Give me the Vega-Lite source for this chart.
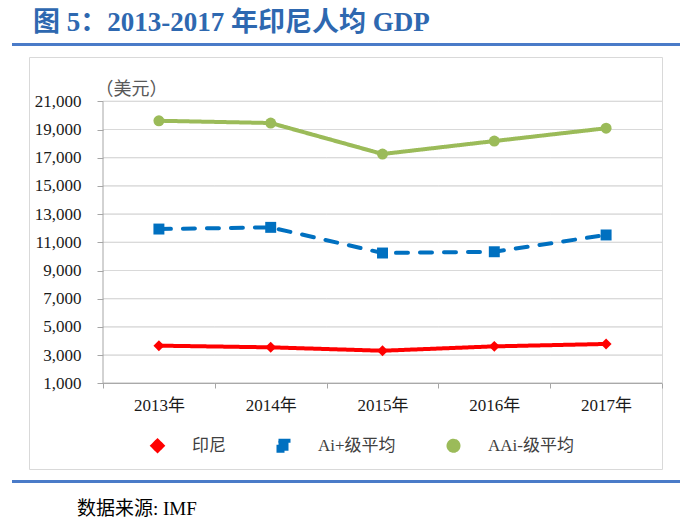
{
  "$schema": "https://vega.github.io/schema/vega-lite/v6.json",
  "padding": {"left": 12, "top": 9, "right": 0, "bottom": 0},
  "background": "white",
  "title": {
    "text": "图 5：2013-2017 年印尼人均 GDP",
    "anchor": "start",
    "frame": "bounds",
    "dx": 21,
    "offset": 6,
    "font": "Liberation Serif, Noto Sans CJK SC",
    "fontSize": 27,
    "fontWeight": "bold",
    "color": "#2E68B0"
  },
  "config": {
    "view": {"stroke": null},
    "axisX": {
      "offset": -86,
      "domain": false,
      "grid": false,
      "ticks": true,
      "tickBand": "extent",
      "tickSize": 5,
      "tickColor": "#A6A6A6",
      "labelAngle": 0,
      "labelFont": "Liberation Serif, Noto Sans CJK SC",
      "labelFontSize": 17,
      "labelColor": "#1a1a1a",
      "labelPadding": 9
    },
    "axisY": {
      "offset": -74,
      "domain": false,
      "grid": false,
      "tickSize": 6,
      "tickColor": "#A6A6A6",
      "labelFont": "Liberation Serif, Noto Sans CJK SC",
      "labelFontSize": 17,
      "labelColor": "#1a1a1a",
      "labelPadding": 16,
      "titleAngle": 0,
      "titleX": -8,
      "titleY": 32,
      "titleAlign": "left",
      "titleBaseline": "middle",
      "titleFont": "Noto Sans CJK SC",
      "titleFontSize": 18,
      "titleFontWeight": "normal",
      "titleColor": "#595959"
    }
  },
  "spacing": 10,
  "center": true,
  "vconcat": [
    {
      "width": 668,
      "height": 3,
      "view": {"fill": "#4A7BC8", "stroke": null},
      "data": {"values": []},
      "mark": "text",
      "encoding": {"text": {"value": ""}}
    },
    {
      "width": 633,
      "height": 412,
      "view": {"stroke": "#D9D9D9", "strokeWidth": 1, "fill": "white"},
      "data": {
        "values": [
          {"year": "2013年", "series": "印尼", "value": 3670},
          {"year": "2014年", "series": "印尼", "value": 3550},
          {"year": "2015年", "series": "印尼", "value": 3310},
          {"year": "2016年", "series": "印尼", "value": 3620},
          {"year": "2017年", "series": "印尼", "value": 3790},
          {"year": "2013年", "series": "Ai+级平均", "value": 11940},
          {"year": "2014年", "series": "Ai+级平均", "value": 12060},
          {"year": "2015年", "series": "Ai+级平均", "value": 10240},
          {"year": "2016年", "series": "Ai+级平均", "value": 10330},
          {"year": "2017年", "series": "Ai+级平均", "value": 11520},
          {"year": "2013年", "series": "AAi-级平均", "value": 19620},
          {"year": "2014年", "series": "AAi-级平均", "value": 19460},
          {"year": "2015年", "series": "AAi-级平均", "value": 17260},
          {"year": "2016年", "series": "AAi-级平均", "value": 18180},
          {"year": "2017年", "series": "AAi-级平均", "value": 19090}
        ]
      },
      "layer": [
        {
          "data": {
            "values": [
              {"year": "2013年", "v": [3000, 5000, 7000, 9000, 11000, 13000, 15000, 17000, 19000, 21000]},
              {"year": "2014年", "v": [3000, 5000, 7000, 9000, 11000, 13000, 15000, 17000, 19000, 21000]},
              {"year": "2015年", "v": [3000, 5000, 7000, 9000, 11000, 13000, 15000, 17000, 19000, 21000]},
              {"year": "2016年", "v": [3000, 5000, 7000, 9000, 11000, 13000, 15000, 17000, 19000, 21000]},
              {"year": "2017年", "v": [3000, 5000, 7000, 9000, 11000, 13000, 15000, 17000, 19000, 21000]}
            ]
          },
          "transform": [{"flatten": ["v"]}],
          "mark": {"type": "bar", "fill": null, "stroke": "#D9D9D9", "strokeWidth": 1},
          "encoding": {
            "x": {
              "field": "year", "type": "ordinal",
              "scale": {"type": "band", "domain": ["2013年", "2014年", "2015年", "2016年", "2017年"], "paddingInner": 0, "paddingOuter": 0.331, "align": 1},
              "axis": {"title": null}
            },
            "y": {
              "field": "v", "type": "quantitative",
              "scale": {"domain": [-5078, 24142], "nice": false, "zero": false},
              "axis": {"title": "（美元）", "format": ",d", "values": [1000, 3000, 5000, 7000, 9000, 11000, 13000, 15000, 17000, 19000, 21000]}
            },
            "y2": {"field": "v"}
          }
        },
        {
          "data": {"values": [{"year": "2013年"}, {"year": "2014年"}, {"year": "2015年"}, {"year": "2016年"}, {"year": "2017年"}]},
          "mark": {"type": "bar", "fill": null, "stroke": "#A6A6A6", "strokeWidth": 1},
          "encoding": {
            "x": {
              "field": "year", "type": "ordinal",
              "scale": {"type": "band", "domain": ["2013年", "2014年", "2015年", "2016年", "2017年"], "paddingInner": 0, "paddingOuter": 0.331, "align": 1},
              "axis": {"title": null}
            },
            "y": {
              "datum": 1000, "type": "quantitative",
              "scale": {"domain": [-5078, 24142], "nice": false, "zero": false},
              "axis": {"title": "（美元）", "format": ",d", "values": [1000, 3000, 5000, 7000, 9000, 11000, 13000, 15000, 17000, 19000, 21000]}
            },
            "y2": {"datum": 1000}
          }
        },
        {
          "data": {"values": [{}]},
          "mark": {"type": "rule", "color": "#A6A6A6", "strokeWidth": 1},
          "encoding": {
            "x": {
              "datum": "2013年", "type": "ordinal", "bandPosition": 0,
              "scale": {"type": "band", "domain": ["2013年", "2014年", "2015年", "2016年", "2017年"], "paddingInner": 0, "paddingOuter": 0.331, "align": 1},
              "axis": {"title": null}
            },
            "y": {
              "datum": 1000, "type": "quantitative",
              "scale": {"domain": [-5078, 24142], "nice": false, "zero": false},
              "axis": {"title": "（美元）", "format": ",d", "values": [1000, 3000, 5000, 7000, 9000, 11000, 13000, 15000, 17000, 19000, 21000]}
            },
            "y2": {"datum": 21000}
          }
        },
        {
          "mark": {"type": "point", "filled": true, "opacity": 1, "size": 120},
          "encoding": {
            "x": {
              "field": "year", "type": "ordinal",
              "scale": {"type": "band", "domain": ["2013年", "2014年", "2015年", "2016年", "2017年"], "paddingInner": 0, "paddingOuter": 0.331, "align": 1},
              "axis": {"title": null}
            },
            "y": {
              "field": "value", "type": "quantitative",
              "scale": {"domain": [-5078, 24142], "nice": false, "zero": false},
              "axis": {"title": "（美元）", "format": ",d", "values": [1000, 3000, 5000, 7000, 9000, 11000, 13000, 15000, 17000, 19000, 21000]}
            },
            "color": {
              "field": "series",
              "type": "nominal",
              "scale": {"domain": ["印尼", "Ai+级平均", "AAi-级平均"], "range": ["#FF0000", "#0070C0", "#9BBB59"]},
              "legend": {
                "orient": "none",
                "legendX": 137,
                "legendY": 394,
                "direction": "horizontal",
                "columns": 3,
                "title": null,
                "padding": 0,
                "columnPadding": 44,
                "symbolSize": 100,
                "symbolStrokeWidth": 0,
                "labelOffset": 26,
                "labelLimit": 0,
                "labelFont": "Liberation Serif, Noto Sans CJK SC",
                "labelFontSize": 17,
                "labelColor": "#404040"
              }
            },
            "shape": {
              "field": "series",
              "type": "nominal",
              "scale": {"domain": ["印尼", "Ai+级平均", "AAi-级平均"], "range": ["diamond", "square", "circle"]},
              "legend": null
            }
          }
        },
        {
          "mark": {"type": "line", "strokeCap": "round", "strokeJoin": "round"},
          "encoding": {
            "x": {
              "field": "year", "type": "ordinal",
              "scale": {"type": "band", "domain": ["2013年", "2014年", "2015年", "2016年", "2017年"], "paddingInner": 0, "paddingOuter": 0.331, "align": 1},
              "axis": {"title": null}
            },
            "y": {
              "field": "value", "type": "quantitative",
              "scale": {"domain": [-5078, 24142], "nice": false, "zero": false},
              "axis": {"title": "（美元）", "format": ",d", "values": [1000, 3000, 5000, 7000, 9000, 11000, 13000, 15000, 17000, 19000, 21000]}
            },
            "color": {
              "field": "series",
              "type": "nominal",
              "scale": {"domain": ["印尼", "Ai+级平均", "AAi-级平均"], "range": ["#FF0000", "#0070C0", "#9BBB59"]},
              "legend": null
            },
            "strokeDash": {
              "field": "series",
              "type": "nominal",
              "scale": {"domain": ["印尼", "Ai+级平均", "AAi-级平均"], "range": [[1, 0], [12, 12], [1, 0]]},
              "legend": null
            },
            "strokeWidth": {
              "field": "series",
              "type": "nominal",
              "scale": {"domain": ["印尼", "Ai+级平均", "AAi-级平均"], "range": [4, 4, 3]},
              "legend": null
            }
          }
        }
      ]
    },
    {
      "width": 668,
      "height": 3,
      "view": {"fill": "#4A7BC8", "stroke": null},
      "title": {
        "text": "数据来源: IMF",
        "orient": "bottom",
        "anchor": "start",
        "frame": "group",
        "dx": 65,
        "offset": 17,
        "font": "Liberation Serif, Noto Sans CJK SC",
        "fontSize": 19,
        "fontWeight": "normal",
        "color": "#000000"
      },
      "data": {"values": []},
      "mark": "text",
      "encoding": {"text": {"value": ""}}
    }
  ]
}
